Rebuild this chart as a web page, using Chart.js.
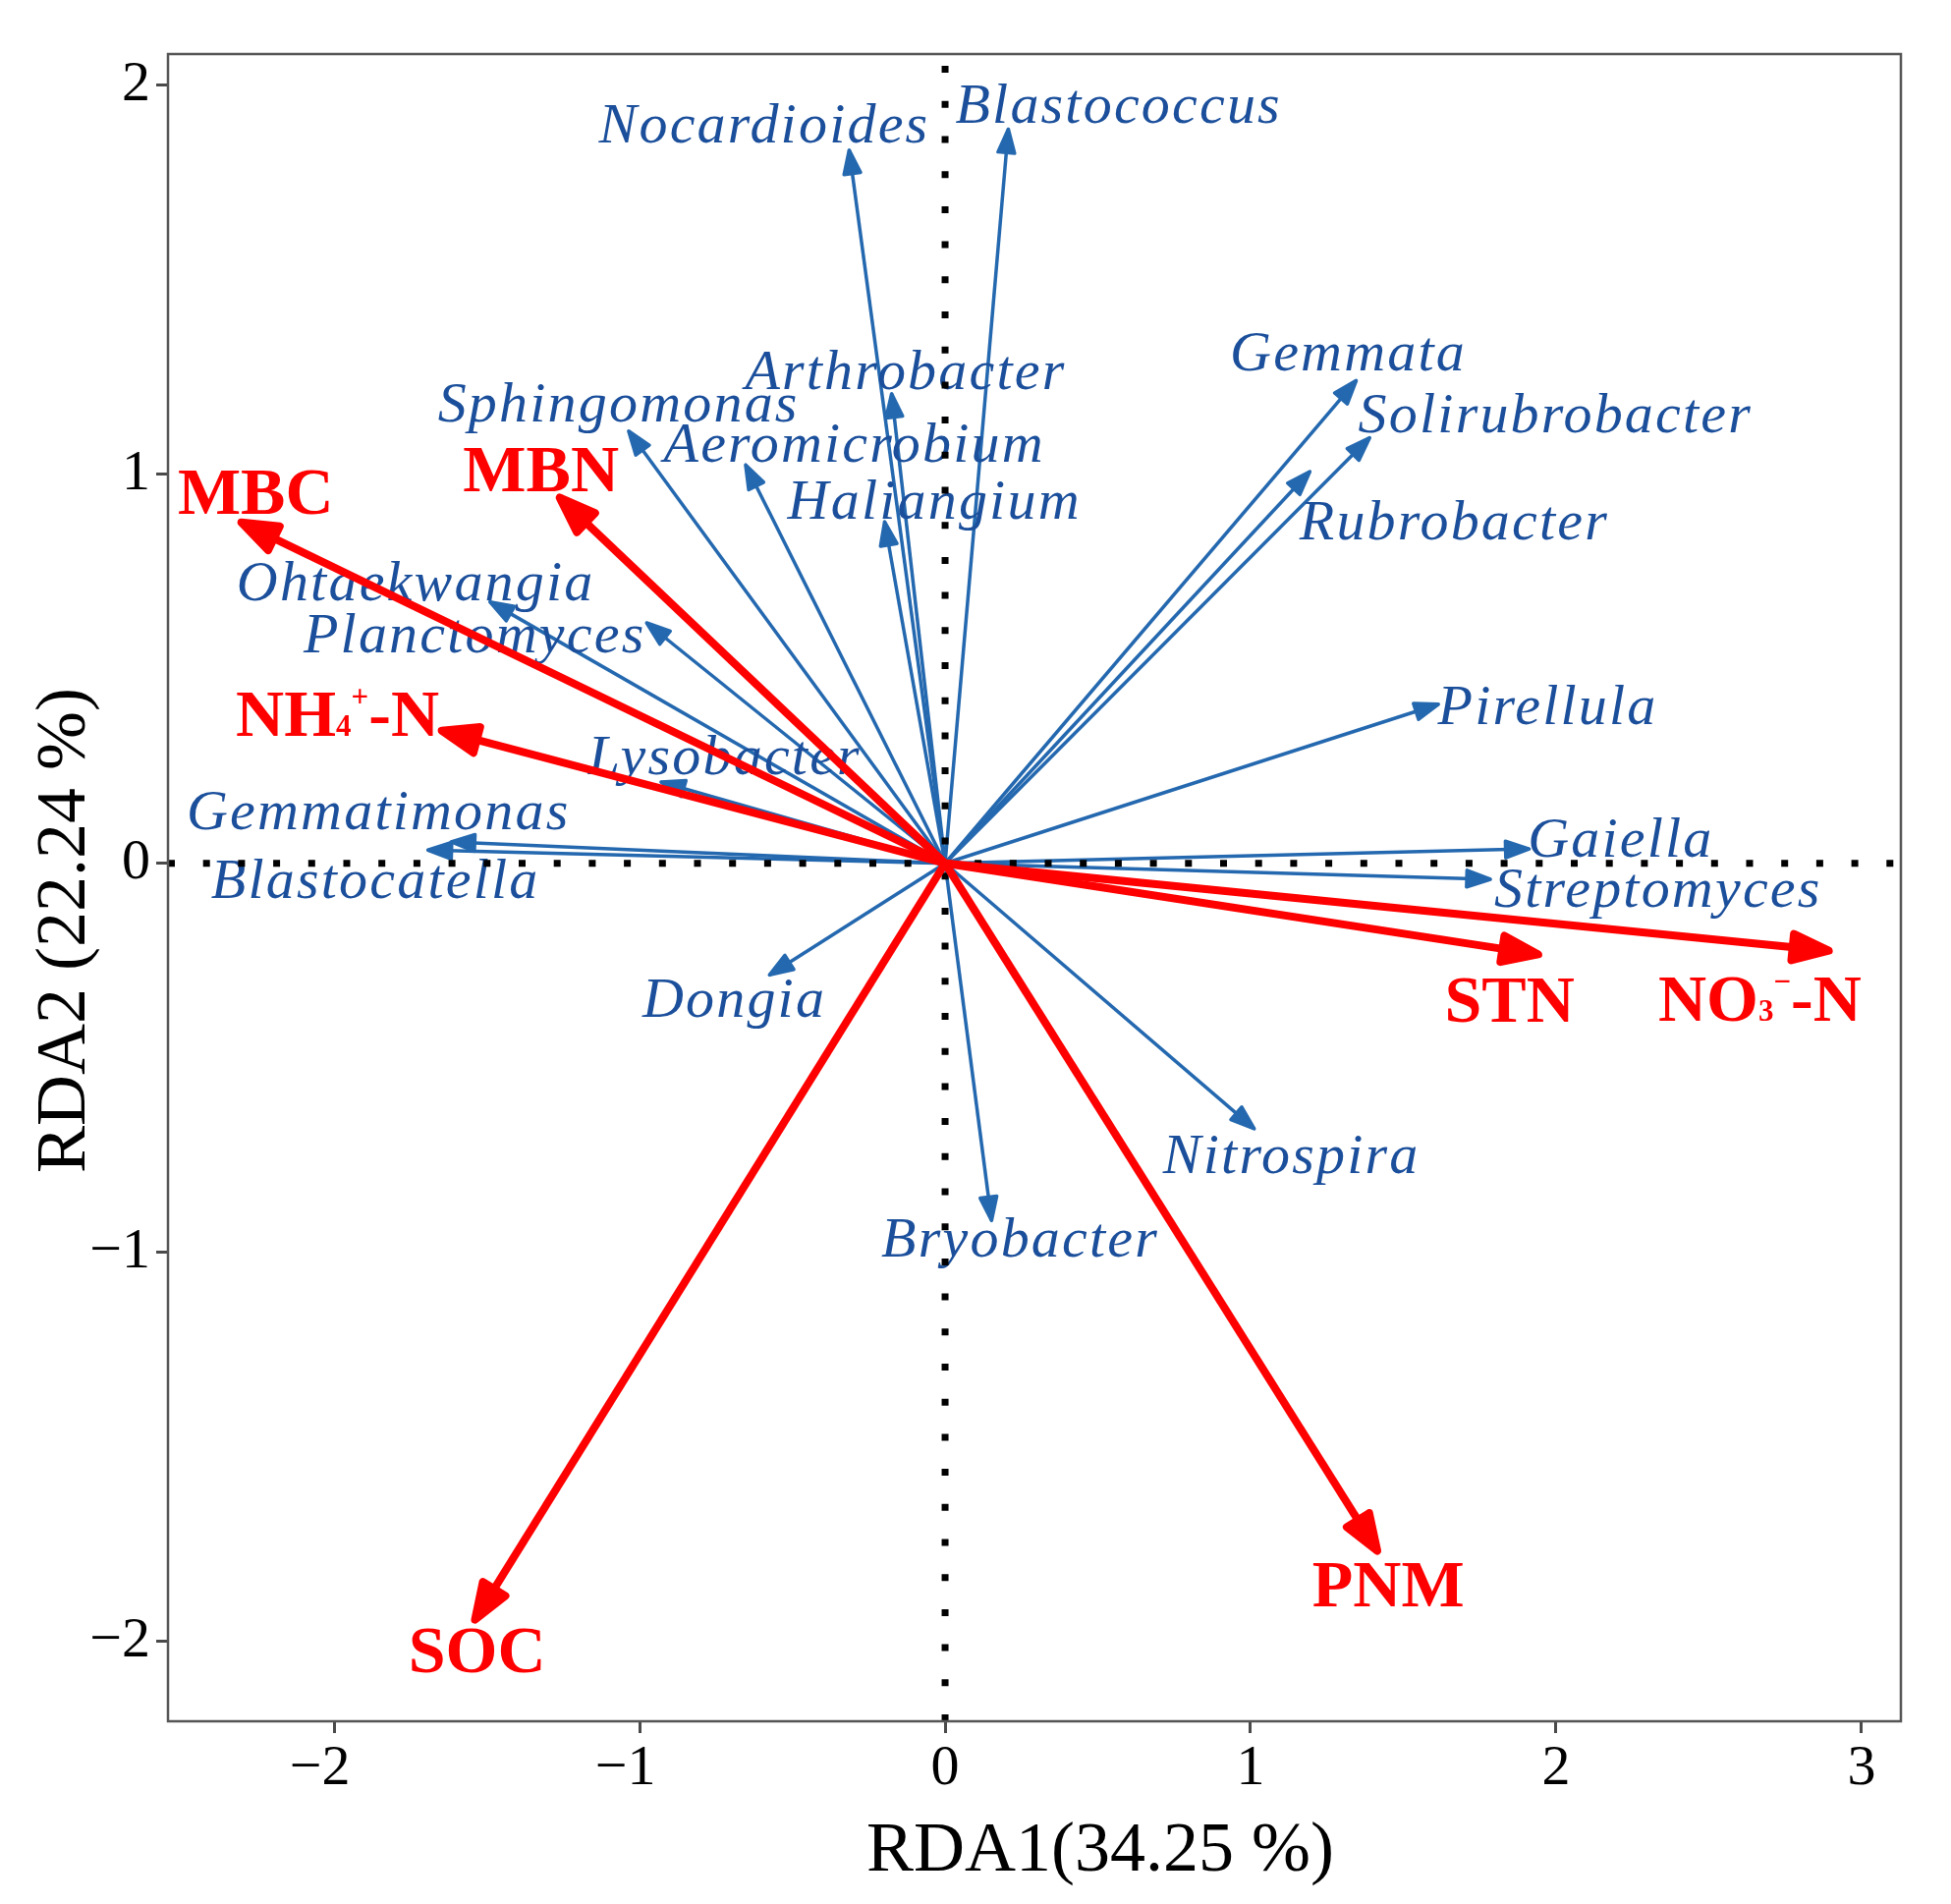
<!DOCTYPE html>
<html>
<head>
<meta charset="utf-8">
<script src="https://cdn.jsdelivr.net/npm/chart.js@4.4.1/dist/chart.umd.min.js"></script>
<style>
html,body{margin:0;padding:0;background:#fff;}
canvas{display:block;}
</style>
</head>
<body>
<canvas id="c" width="1986" height="1938"></canvas>
<script>
// ---------- data ----------
const xLimits = [-2.544, 3.129];
const yLimits = [-2.205, 2.080];
const xTicks = [-2, -1, 0, 1, 2, 3];
const xTickLabels = ['\u22122\u2002', '\u22121\u2002', '0', '1', '2', '3'];
const yTicks = [-2, -1, 0, 1, 2];
const yTickLabels = ['\u22122', '\u22121', '0', '1', '2'];
const xTitle = 'RDA1(34.25 %)';
const yTitle = 'RDA2 (22.24 %)';

const speciesNames = ['Nocardioides','Blastococcus','Arthrobacter','Sphingomonas','Aeromicrobium','Haliangium',
  'Ohtaekwangia','Planctomyces','Lysobacter','Gemmatimonas','Blastocatella','Dongia','Bryobacter','Nitrospira',
  'Gemmata','Solirubrobacter','Rubrobacter','Pirellula','Gaiella','Streptomyces'];
const speciesRDA1 = [-0.314, 0.207, -0.175, -1.036, -0.653, -0.198, -1.490, -0.977, -0.930, -1.617, -1.693, -0.575, 0.152, 1.012, 1.346, 1.390, 1.194, 1.615, 1.912, 1.785];
const speciesRDA2 = [1.833, 1.887, 1.207, 1.111, 1.024, 0.878, 0.672, 0.618, 0.209, 0.055, 0.034, -0.287, -0.918, -0.682, 1.241, 1.094, 1.007, 0.409, 0.037, -0.041];
const speciesLabelRDA1 = [-0.592, 0.568, -0.129, -1.069, -0.297, -0.035, -1.733, -1.540, -0.721, -1.855, -1.865, -0.690, 0.246, 1.134, 1.320, 1.998, 1.667, 1.973, 2.212, 2.334];
const speciesLabelRDA2 = [1.853, 1.904, 1.220, 1.135, 1.031, 0.885, 0.677, 0.543, 0.230, 0.088, -0.090, -0.395, -1.011, -0.797, 1.267, 1.109, 0.833, 0.357, 0.016, -0.112];

// '_' = subscript next char, '^' = superscript next char
const envNames = ['MBC', 'MBN', 'NH_4^+-N', 'STN', 'NO_3^\u2212-N', 'PNM', 'SOC'];
const envRDA1 = [-2.304, -1.262, -1.648, 1.942, 2.893, 1.415, -1.539];
const envRDA2 = [0.876, 0.940, 0.341, -0.234, -0.2245, -1.767, -1.944];
const envLabelRDA1 = [-2.257, -1.323, -1.989, 1.848, 2.667, 1.451, -1.532];
const envLabelRDA2 = [0.899, 0.957, 0.328, -0.407, -0.404, -1.910, -2.079];

// ---------- styles ----------
const BLUE_LINE = '#2468AF';
const BLUE_TEXT = '#1B4F9B';
const RED = '#FF0000';
const SERIF = '"Liberation Serif", "Times New Roman", serif';

const blueSets = speciesNames.map((n, i) => ({
  label: n, role: 'species',
  data: [{x: 0, y: 0}, {x: speciesRDA1[i], y: speciesRDA2[i]}],
  showLine: true, borderColor: BLUE_LINE, backgroundColor: BLUE_LINE, borderWidth: 3.5,
  pointRadius: 0, pointHoverRadius: 0, order: 3, borderCapStyle: 'butt',
  head: {len: 24, half: 8.5}
}));
const zeroSets = [
  {label: 'h0', role: 'zero', data: [{x: xLimits[0], y: 0}, {x: xLimits[1], y: 0}]},
  {label: 'v0', role: 'zero', data: [{x: 0, y: yLimits[0]}, {x: 0, y: yLimits[1]}]}
].map(d => Object.assign(d, {showLine: true, borderColor: '#000', borderWidth: 7, borderDash: [7, 28.7],
  borderCapStyle: 'butt', pointRadius: 0, pointHoverRadius: 0, order: 2}));
const redSets = envNames.map((n, i) => ({
  label: n, role: 'env',
  data: [{x: 0, y: 0}, {x: envRDA1[i], y: envRDA2[i]}],
  showLine: true, borderColor: RED, backgroundColor: RED, borderWidth: 8,
  pointRadius: 0, pointHoverRadius: 0, order: 1, borderCapStyle: 'butt',
  head: {len: 37, half: 13.5}
}));

function parseRich(s) {
  const segs = []; let buf = '';
  for (let i = 0; i < s.length; i++) {
    const c = s[i];
    if ((c === '_' || c === '^') && i + 1 < s.length) {
      if (buf) { segs.push({t: buf, k: 'n'}); buf = ''; }
      segs.push({t: s[i + 1], k: c === '_' ? 'sub' : 'sup'}); i++;
    } else buf += c;
  }
  if (buf) segs.push({t: buf, k: 'n'});
  return segs;
}

let blueLabelsDone = false;
function drawBlueLabels(chart) {
  const ctx = chart.ctx, xs = chart.scales.x, ys = chart.scales.y;
  ctx.save();
  ctx.font = 'italic 58px ' + SERIF;
  ctx.letterSpacing = '2.2px';
  ctx.fillStyle = BLUE_TEXT;
  ctx.textAlign = 'center';
  ctx.textBaseline = 'alphabetic';
  speciesNames.forEach((n, i) => {
    ctx.fillText(n, xs.getPixelForValue(speciesLabelRDA1[i]), ys.getPixelForValue(speciesLabelRDA2[i]));
  });
  ctx.restore();
}
function drawRedLabels(chart) {
  const ctx = chart.ctx, xs = chart.scales.x, ys = chart.scales.y;
  ctx.save();
  ctx.fillStyle = RED;
  ctx.textAlign = 'left';
  ctx.textBaseline = 'alphabetic';
  const big = 'bold 68px ' + SERIF, small = 'bold 31px ' + SERIF;
  envNames.forEach((n, i) => {
    const segs = parseRich(n);
    let w = 0;
    segs.forEach(s => { ctx.font = s.k === 'n' ? big : small; s.w = ctx.measureText(s.t).width; w += s.w; });
    let x = xs.getPixelForValue(envLabelRDA1[i]) - w / 2;
    const y = ys.getPixelForValue(envLabelRDA2[i]);
    segs.forEach(s => {
      ctx.font = s.k === 'n' ? big : small;
      const dy = s.k === 'sup' ? -30 : 0;
      ctx.fillText(s.t, x, y + dy);
      x += s.w;
    });
  });
  ctx.restore();
}

const arrowPlugin = {
  id: 'arrows',
  beforeDraw() { blueLabelsDone = false; },
  beforeDatasetDraw(chart, args) {
    const ds = chart.data.datasets[args.index];
    if (ds.role !== 'species' && !blueLabelsDone) { drawBlueLabels(chart); blueLabelsDone = true; }
  },
  afterDatasetDraw(chart, args) {
    const ds = chart.data.datasets[args.index];
    if (!ds.head) return;
    const pts = args.meta.data;
    const p0 = pts[0], p1 = pts[1];
    const ang = Math.atan2(p1.y - p0.y, p1.x - p0.x);
    const L = ds.head.len, H = ds.head.half;
    const bx = p1.x - L * Math.cos(ang), by = p1.y - L * Math.sin(ang);
    const ctx = chart.ctx;
    ctx.save();
    ctx.beginPath();
    ctx.moveTo(p1.x, p1.y);
    ctx.lineTo(bx + H * Math.sin(ang), by - H * Math.cos(ang));
    ctx.lineTo(bx - H * Math.sin(ang), by + H * Math.cos(ang));
    ctx.closePath();
    ctx.fillStyle = ds.borderColor;
    ctx.strokeStyle = ds.borderColor;
    ctx.lineWidth = ds.borderWidth;
    ctx.lineJoin = 'round';
    ctx.fill();
    ctx.stroke();
    ctx.restore();
  },
  afterDatasetsDraw(chart) {
    drawRedLabels(chart);
  },
  afterDraw(chart) {
    const ctx = chart.ctx, a = chart.chartArea;
    ctx.save();
    ctx.strokeStyle = '#555';
    ctx.lineWidth = 2.5;
    ctx.strokeRect(a.left, a.top, a.right - a.left, a.bottom - a.top);
    ctx.fillStyle = '#000';
    ctx.font = '72px ' + SERIF;
    ctx.textAlign = 'center';
    ctx.textBaseline = 'alphabetic';
    ctx.fillText(xTitle, 1120, 1904);
    ctx.translate(86, 947);
    ctx.rotate(-Math.PI / 2);
    ctx.fillText(yTitle, 0, 0);
    ctx.restore();
  }
};

const tickFont = {family: SERIF, size: 58};
new Chart(document.getElementById('c'), {
  type: 'scatter',
  data: {datasets: [...redSets, ...zeroSets, ...blueSets]},
  options: {
    responsive: false,
    devicePixelRatio: 1,
    animation: false,
    events: [],
    layout: {padding: {top: 55, right: 51, left: 0, bottom: 0}},
    plugins: {legend: {display: false}, tooltip: {enabled: false}},
    scales: {
      x: {
        type: 'linear', min: xLimits[0], max: xLimits[1],
        afterBuildTicks: s => { s.ticks = xTicks.map(v => ({value: v})); },
        afterFit: s => { s.height = 186; },
        grid: {display: true, drawOnChartArea: false, drawTicks: true, tickLength: 12, tickWidth: 3, tickColor: '#4a4a4a'},
        border: {display: false},
        ticks: {font: tickFont, color: '#000', padding: 2, maxRotation: 0, autoSkip: false,
          callback: v => xTickLabels[xTicks.indexOf(v)]}
      },
      y: {
        type: 'linear', min: yLimits[0], max: yLimits[1],
        afterBuildTicks: s => { s.ticks = yTicks.map(v => ({value: v})); },
        afterFit: s => { s.width = 171; },
        grid: {display: true, drawOnChartArea: false, drawTicks: true, tickLength: 12, tickWidth: 3, tickColor: '#4a4a4a'},
        border: {display: false},
        ticks: {font: tickFont, color: '#000', padding: 6, autoSkip: false,
          callback: v => yTickLabels[yTicks.indexOf(v)]}
      }
    }
  },
  plugins: [arrowPlugin]
});
</script>
</body>
</html>
